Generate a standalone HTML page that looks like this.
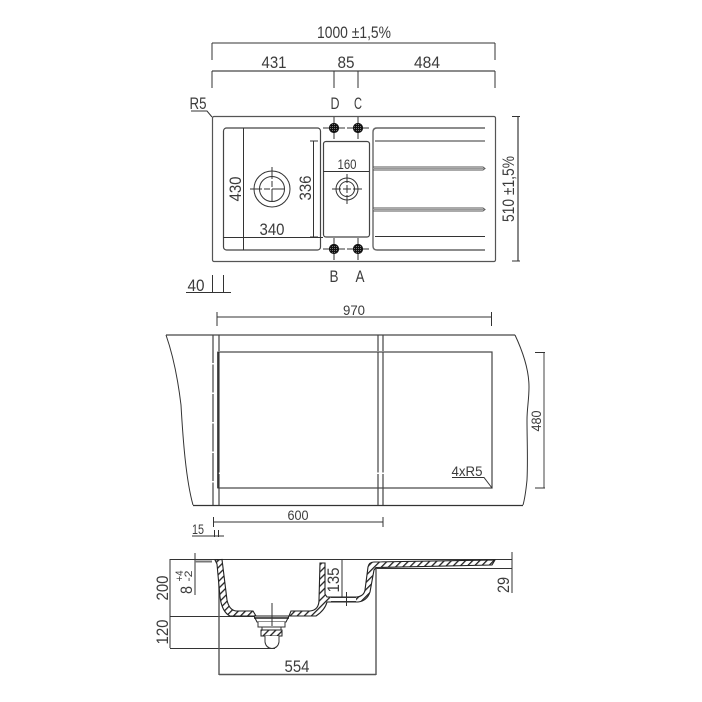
<!DOCTYPE html>
<html><head><meta charset="utf-8"><style>
html,body{margin:0;padding:0;background:#fff}svg{display:block}
text{font-family:"Liberation Sans",sans-serif;font-size:17px;fill:#3c3c3c;text-anchor:middle;stroke:none}
</style></head><body>
<svg width="702" height="702" viewBox="0 0 702 702" xmlns="http://www.w3.org/2000/svg">
<defs>
<pattern id="h" width="5" height="5" patternUnits="userSpaceOnUse" patternTransform="rotate(45)"><rect width="5" height="5" fill="#fff"/><rect width="1.3" height="5" fill="#222"/></pattern>
<pattern id="m" width="2" height="2" patternUnits="userSpaceOnUse"><rect width="2" height="2" fill="#111"/><rect width="1" height="1" fill="#777"/></pattern>
</defs>
<g fill="none" stroke="#333" stroke-width="1">
<!-- top dims -->
<path d="M212 43H495M212 43V60M495 43V60"/>
<path d="M212 71H495" stroke="#666" stroke-width="1.5"/>
<path d="M212 71V88M334 71V88M358 71V88M495 71V88"/>
<!-- outer -->
<rect x="212.5" y="116.5" width="283" height="145" rx="1.5" stroke="#555" stroke-width="1.2"/>
<path d="M191 111H207L212 117"/>
<!-- main bowl -->
<rect x="223.5" y="128" width="97" height="122" rx="3" stroke="#444" stroke-width="1.2"/>
<path d="M243.5 128V250M223 237.5H323M313.5 141V237M318 141H310M318 237H310"/>
<circle cx="272" cy="189" r="18"/><circle cx="272" cy="189" r="12.5"/>
<path d="M250 189H294M272 167V211" stroke-dasharray="12 2 6 2 12"/>
<!-- small bowl -->
<rect x="323.5" y="141.5" width="46" height="95.5" rx="2.5" stroke="#444" stroke-width="1.2"/>
<path d="M323 171.5H369"/>
<circle cx="347" cy="189" r="11"/><circle cx="347" cy="189" r="7.5"/>
<path d="M332 189H362M347 174V204" stroke-dasharray="9 2 8 2 9"/>
<!-- holes -->
<path d="M323 128H345M334 117V139M347 128H369M358 117V139M323 249H345M334 238V260M347 249H369M358 238V260"/>
<g fill="url(#m)" stroke="#111"><circle cx="334" cy="128" r="4.6"/><circle cx="358" cy="128" r="4.6"/><circle cx="334" cy="249" r="4.6"/><circle cx="358" cy="249" r="4.6"/></g>
<!-- drainer -->
<path d="M485 128H377Q373 128 373 132V246Q373 250 377 250H485" stroke="#666" stroke-width="1.4"/>
<path d="M375 141H485M375 236.500H485"/>
<path d="M373 167H483L485 168.500L483 170H373M373 208H483L485 209.500L483 211H373" stroke="#555"/>
<path d="M373 168.500H484M373 209.500H484" stroke="#999"/>
<!-- 510 -->
<path d="M518 116V261" stroke="#555" stroke-width="1.4"/><path d="M512 116.500H520M512 261H520"/>
<!-- 40 -->
<path d="M186 292.500H231M212.500 275V293M223.500 275V293"/>
<!-- plan -->
<path d="M166 335H515" stroke="#666" stroke-width="1.6"/>
<path d="M193 505.500H523" stroke="#333" stroke-width="1.2"/>
<path d="M166 335C173 355 178 380 181 405C183 440 186 480 193 505"/>
<path d="M515 335C523 352 529 370 529 387C529 400 527 408 527 420C527 440 528 460 527 480C526 490 525 498 523 505"/>
<rect x="218" y="352" width="274" height="136" stroke="#444" stroke-width="1.2"/>
<path d="M218 352V488" stroke="#222" stroke-width="1.5"/>
<path d="M213 335V505" stroke="#444" stroke-width="1.2" stroke-dasharray="28 1.500"/>
<path d="M219 335V505M378 335V505M383 335V505" stroke="#444" stroke-width="1.2" stroke-dasharray="16 1.500 120 1.500 32"/>
<path d="M217 317H491M217 312V326M491.500 312V326"/>
<path d="M213 522H383M213.500 517V527M383 517V527"/>
<path d="M544 352V488" stroke="#444"/><path d="M535 352.500H545M535 488H545"/>
<path d="M452 477.500H484L492 488"/>
<!-- 15 -->
<path d="M192 536H224M214.500 530V537M218.500 530V537"/>
<!-- section lines -->
<path d="M170 559.500H512M170 616.500H255M170 648.500H275M170 559V648"/>
<path d="M195 553V595M342 559V597M512 552V593M376 568.500H512"/>
<path d="M195 561.500H212" stroke="#777" stroke-width="2"/>
<path d="M219 559V675M376 568V675M219 674.500H376M219 670V675M376 670V675" stroke="#555" stroke-width="1.4"/>
<!-- section body -->
<path d="M215 560L222 559.500L227 600Q229 610 236 611H253L256 616H289L291 611H310Q319 610 319 600L320 563L325 563V594L327 597H357Q364 596 365 590L368 567Q369 562 374 562L495 560L492 565L376 567.500L374 570L370 592Q367 601 358 602H327Q325 610 316 616H256L230 616Q222 612 220 597L217 564Z" fill="url(#h)" stroke="#222" stroke-width="1.1"/>
<rect x="331" y="597.500" width="25" height="4" fill="#fff" stroke="none"/>
<path d="M331 597.500H356M331 601.500H356M346.500 592V606" stroke="#333"/>
<!-- drain -->
<path d="M254 616H289L286 622H257Z" fill="#fff" stroke="#222"/>
<path d="M254 618H289" stroke="#222" stroke-width="1.6"/>
<path d="M258 622V627H285V622" fill="#fff"/><path d="M262 627V630M281 627V630"/>
<rect x="261" y="630" width="21" height="6" fill="url(#h)" stroke="#222"/>
<path d="M265 636V642Q266 648 272 648.500Q278 648 279 642V636" fill="#fff"/>
<path d="M272 603V626"/>
</g>
<text x="354" y="38" textLength="74" lengthAdjust="spacingAndGlyphs">1000 ±1,5%</text>
<text x="274" y="68" textLength="25" lengthAdjust="spacingAndGlyphs">431</text>
<text x="346" y="68" textLength="17" lengthAdjust="spacingAndGlyphs">85</text>
<text x="427" y="68" textLength="26" lengthAdjust="spacingAndGlyphs">484</text>
<text x="198" y="109" textLength="17" lengthAdjust="spacingAndGlyphs">R5</text>
<text x="335" y="109" textLength="9" lengthAdjust="spacingAndGlyphs">D</text>
<text x="358" y="109" textLength="8" lengthAdjust="spacingAndGlyphs">C</text>
<text x="334" y="282" textLength="9" lengthAdjust="spacingAndGlyphs">B</text>
<text x="360" y="282" textLength="9" lengthAdjust="spacingAndGlyphs">A</text>
<text x="272" y="235" textLength="25" lengthAdjust="spacingAndGlyphs">340</text>
<text x="347" y="169" style="font-size:14px" textLength="19" lengthAdjust="spacingAndGlyphs">160</text>
<text x="196" y="291" textLength="17" lengthAdjust="spacingAndGlyphs">40</text>
<text transform="translate(241,189) rotate(-90)" textLength="25" lengthAdjust="spacingAndGlyphs">430</text>
<text transform="translate(311,188) rotate(-90)" textLength="25" lengthAdjust="spacingAndGlyphs">336</text>
<text transform="translate(514,189) rotate(-90)" textLength="66" lengthAdjust="spacingAndGlyphs">510 ±1,5%</text>
<text x="354" y="315" style="font-size:14px" textLength="22" lengthAdjust="spacingAndGlyphs">970</text>
<text x="298" y="520" style="font-size:14px" textLength="21" lengthAdjust="spacingAndGlyphs">600</text>
<text transform="translate(541,421) rotate(-90)" style="font-size:14px" textLength="21" lengthAdjust="spacingAndGlyphs">480</text>
<text x="467" y="476" style="font-size:14px" textLength="31" lengthAdjust="spacingAndGlyphs">4xR5</text>
<text x="198" y="534" style="font-size:14px" textLength="12" lengthAdjust="spacingAndGlyphs">15</text>
<text transform="translate(168,588) rotate(-90)" textLength="25" lengthAdjust="spacingAndGlyphs">200</text>
<text transform="translate(168,632) rotate(-90)" textLength="25" lengthAdjust="spacingAndGlyphs">120</text>
<text transform="translate(192,590) rotate(-90)" textLength="8" lengthAdjust="spacingAndGlyphs">8</text>
<text transform="translate(183,576) rotate(-90)" style="font-size:11px" textLength="11" lengthAdjust="spacingAndGlyphs">+4</text>
<text transform="translate(192,576) rotate(-90)" style="font-size:11px" textLength="11" lengthAdjust="spacingAndGlyphs">-2</text>
<text transform="translate(339,580) rotate(-90)" textLength="25" lengthAdjust="spacingAndGlyphs">135</text>
<text transform="translate(509,585) rotate(-90)" textLength="16" lengthAdjust="spacingAndGlyphs">29</text>
<text x="297" y="672" textLength="25" lengthAdjust="spacingAndGlyphs">554</text>
</svg>
</body></html>
